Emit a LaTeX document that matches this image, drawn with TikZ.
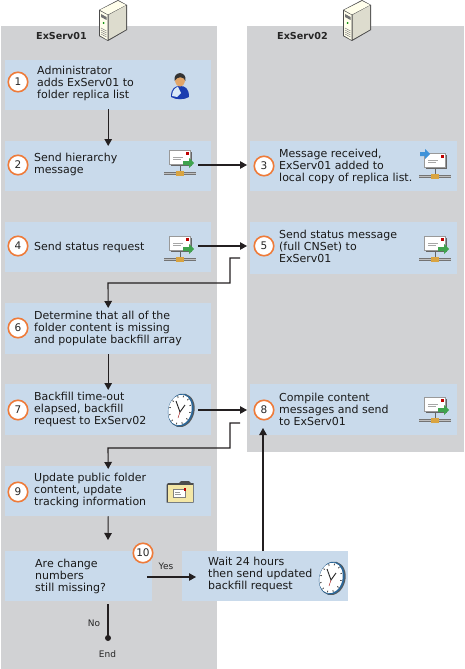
\documentclass[tikz,border=0pt]{standalone}
\usepackage{fontspec}
\setmainfont{DejaVu Sans}
\usetikzlibrary{arrows.meta}
\definecolor{panelgray}{HTML}{D1D2D4}
\definecolor{boxblue}{HTML}{C9DAEB}
\definecolor{ringorange}{HTML}{EE7B3A}
\definecolor{linedark}{HTML}{231F20}
\definecolor{goldstem}{HTML}{D9A441}
\definecolor{arrowgreen}{HTML}{3FA34D}
\definecolor{arrowblue}{HTML}{3F93D9}
\tikzset{
  panel/.style={fill=panelgray,anchor=north west,inner sep=0},
  stepbox/.style={fill=boxblue,anchor=north west,inner sep=0},
  steptext/.style={anchor=west,align=left,inner sep=0,font=\fontsize{11}{12}\selectfont,text=black!90},
  stepnum/.style={circle,draw=ringorange,line width=1.6pt,fill=white,minimum size=19.5pt,inner sep=0,font=\fontsize{10.5}{12}\selectfont,text=black!85},
  small/.style={inner sep=0,font=\fontsize{9}{10}\selectfont,text=black!85},
  flow/.style={draw=linedark,line width=1.1pt,-{Triangle[length=7pt,width=7.5pt]}},
  plainline/.style={draw=linedark,line width=1.1pt},
  servericon/.pic={
    \fill[black!70] (-14,-10) -- (5,-20) -- (14,-15) -- (14,10) -- (-5,21) -- (-14,16) -- cycle;
    \fill[white!92!yellow] (-13,-10) -- (5,-19) -- (13,-15) -- (-5,-5.5) -- cycle;
    \fill[yellow!30!black!22] (-4.5,-5) -- (13,-14.5) -- (13,9.5) -- (-4.5,19.5) -- cycle;
    \fill[yellow!8!white] (-13,-9) -- (-5.5,-5) -- (-5.5,20) -- (-13,15.5) -- cycle;
    \fill[black!55] (-12,-6) -- (-6.5,-3) -- (-6.5,0) -- (-12,-3) -- cycle;
    \fill[green!55!black] (-9.5,3) circle (1);
    \foreach \i in {0,2,4,6}
      \draw[black!50,line width=.5pt] (-12,8+\i) -- (-6.5,11+\i);
  },
  mailicon/.pic={
    \fill[black!55] (-16,12) rectangle (16,15);
    \fill[black!25] (-16,12.5) rectangle (16,13.5);
    \fill[goldstem] (-4,10.5) rectangle (4,15.5);
    \draw[black!60,line width=1pt] (0,5) -- (0,11);
    \fill[black!60] (-9,-8) rectangle (11.5,5.5);
    \fill[white] (-10.5,-9.5) rectangle (10,4);
    \draw[black!40,line width=.4pt] (-10.5,-9.5) rectangle (10,4);
    \fill[red!75!black] (6,-8.5) rectangle (9,-5.5);
    \draw[black!35,line width=.7pt] (-7,-3) -- (3,-3) (-7,-.5) -- (1,-.5);
  },
  outarrow/.pic={
    \fill[arrowgreen] (3,1) -- (9,1) -- (9,-2) -- (14,3) -- (9,8) -- (9,5) -- (3,5) -- cycle;
  },
  inarrow/.pic={
    \fill[arrowblue] (-15,-11) -- (-10,-11) -- (-10,-14) -- (-5,-9) -- (-10,-4) -- (-10,-7) -- (-15,-7) -- cycle;
  },
  clockicon/.pic={
    \begin{scope}[rotate=-14]
    \fill[black!65] (1.5,0) ellipse (13 and 17);
    \fill[arrowblue!70!black] (.8,0) ellipse (12.6 and 16.6);
    \fill[white] (0,0) ellipse (11.5 and 15.5);
    \foreach \a in {0,30,...,330}
      \draw[black!75,line width=.8pt] ({9.5*cos(\a)},{13*sin(\a)}) -- ({11*cos(\a)},{14.8*sin(\a)});
    \end{scope}
    \draw[black!85,line width=.9pt] (-4,-9) -- (0,2) -- (5,-5);
    \draw[red!60!black,line width=.4pt] (0,2) -- (-2,8);
  },
  foldericon/.pic={
    \fill[black!70] (-13.5,-7) -- (-12,-9) -- (-1,-9) -- (1,-11) -- (9,-11) -- (11,-9) -- (13.5,-9) -- (13.5,10.5) -- (-13.5,10.5) -- cycle;
    \fill[yellow!55!brown!40!white] (-12.5,-7) rectangle (12.5,9.5);
    \fill[white] (-7,-3) rectangle (5,5);
    \draw[black!50,line width=.4pt] (-7,-3) rectangle (5,5);
    \fill[red!75!black] (3.5,-4) rectangle (6,-1.5);
    \draw[black!40,line width=.5pt] (-5,0) -- (0,0) (-5,2) -- (1,2);
  },
  personicon/.pic={
    \fill[arrowblue!55!blue!75!black] (-9,12) .. controls (-9,3) and (-5,1) .. (0,1) .. controls (5,1) and (9,3) .. (9,12) .. controls (4,15) and (-4,15) .. (-9,12) -- cycle;
    \fill[white!80!arrowblue] (-8,11) .. controls (-8,5) and (-4,2) .. (-2,2) -- (1,8) -- (-3,12) -- cycle;
    \fill[orange!35!brown!70!white] (0,-5) ellipse (5 and 6.5);
    \fill[black!80] (-5.5,-4) .. controls (-7,-14.5) and (7,-14.5) .. (5.5,-4) .. controls (4,-9) and (-3,-9) .. (-5.5,-4) -- cycle;
  },
}
\begin{document}
\begin{tikzpicture}[x=1pt,y=-1pt]
\useasboundingbox (0,0) rectangle (464,669);
% panels
\node[panel,minimum width=216,minimum height=643] (panelA) at (1,26) {};
\node[panel,minimum width=217,minimum height=426] (panelB) at (247,26) {};
\pic at (113,20) {servericon};
\pic at (357,20) {servericon};
\node[anchor=west,inner sep=0,font=\bfseries\fontsize{9.6}{10}\selectfont,text=black!85] (titleA) at (36,36.5) {ExServ01};
\node[anchor=west,inner sep=0,font=\bfseries\fontsize{9.6}{10}\selectfont,text=black!85] (titleB) at (277,36.5) {ExServ02};
% step boxes
\node[stepbox,minimum width=206,minimum height=50] (box1) at (5,60) {};
\node[stepbox,minimum width=206,minimum height=50] (box2) at (5,141) {};
\node[stepbox,minimum width=207,minimum height=50] (box3) at (250,141) {};
\node[stepbox,minimum width=206,minimum height=50] (box4) at (5,222) {};
\node[stepbox,minimum width=207,minimum height=52] (box5) at (250,222) {};
\node[stepbox,minimum width=206,minimum height=51] (box6) at (5,303) {};
\node[stepbox,minimum width=206,minimum height=51] (box7) at (5,384) {};
\node[stepbox,minimum width=207,minimum height=51] (box8) at (250,384) {};
\node[stepbox,minimum width=206,minimum height=50] (box9) at (5,466) {};
\node[stepbox,minimum width=147,minimum height=50] (box10) at (5,551) {};
\node[stepbox,minimum width=166,minimum height=50] (boxwait) at (182,551) {};
% numbers
\node[stepnum] (num1) at (18,82) {1};
\node[stepnum] (num2) at (18,165) {2};
\node[stepnum] (num3) at (264,166) {3};
\node[stepnum] (num4) at (18,246) {4};
\node[stepnum] (num5) at (264,246) {5};
\node[stepnum] (num6) at (18,328) {6};
\node[stepnum] (num7) at (18,410) {7};
\node[stepnum] (num8) at (264,410) {8};
\node[stepnum] (num9) at (18,492) {9};
\node[stepnum] (num10) at (143,553) {10};
% text
\node[steptext] (text1) at (37,83) {Administrator\\adds ExServ01 to\\folder replica list};
\node[steptext] (text2) at (34,164) {Send hierarchy\\message};
\node[steptext] (text3) at (279,166) {Message received,\\ExServ01 added to\\local copy of replica list.};
\node[steptext] (text4) at (34,247) {Send status request};
\node[steptext] (text5) at (279,246) {Send status message\\(full CNSet) to\\ExServ01};
\node[steptext] (text6) at (34,328) {Determine that all of the\\folder content is missing\\and populate backfill array};
\node[steptext] (text7) at (34,409) {Backfill time-out\\elapsed, backfill\\request to ExServ02};
\node[steptext] (text8) at (279,409) {Compile content\\messages and send\\to ExServ01};
\node[steptext] (text9) at (34,490) {Update public folder\\content, update\\tracking information};
\node[steptext] (text10) at (35,576) {Are change\\numbers\\still missing?};
\node[steptext] (textwait) at (208,574) {Wait 24 hours\\then send updated\\backfill request};
% icons
\pic at (180,85) {personicon};
\pic at (180,160) {mailicon};
\pic at (180,160) {outarrow};
\pic at (435,163) {mailicon};
\pic at (435,163) {inarrow};
\pic at (180,246) {mailicon};
\pic at (180,246) {outarrow};
\pic at (435,246) {mailicon};
\pic at (435,246) {outarrow};
\pic at (180,410) {clockicon};
\pic at (435,407) {mailicon};
\pic at (435,407) {outarrow};
\pic at (180,492) {foldericon};
\pic at (331,578) {clockicon};
% connectors
\coordinate (out2) at (198,165);
\coordinate (out4) at (198,246);
\coordinate (out7) at (198,410);
\coordinate (back5) at (240,258);
\coordinate (back8) at (240,423);
\coordinate (up8) at (263,551);
\coordinate (end) at (108,638);
\draw[flow] ([yshift=1]box1.south) -- ([yshift=-5]box2.north);
\draw[flow] (out2) -- (out2 -| panelB.west);
\draw[flow] (out4) -- (out4 -| panelB.west);
\draw[flow] (back5) -- (230,258) -- (230,283) -- (108,283) -- ([yshift=-5]box6.north);
\draw[flow] (box6.south) -- ([yshift=-6]box7.north);
\draw[flow] (out7) -- (out7 -| panelB.west);
\draw[flow] (back8) -- (230,423) -- (230,448) -- (108,448) -- ([yshift=-3]box9.north);
\draw[flow] (box9.south) -- (108,540);
\draw[flow] (147,577) -- (196,577);
\draw[flow] (up8) -- (263,428);
\draw[plainline] (108,604) -- (end);
\fill[linedark] (end) circle (3);
\node[small] (yes) at (166,566) {Yes};
\node[small] (no) at (94,623) {No};
\node[small] (endlabel) at (107.5,654) {End};
\end{tikzpicture}
\end{document}
